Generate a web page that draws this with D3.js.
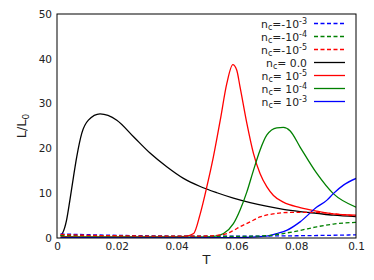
<!DOCTYPE html>
<html>
<head>
<meta charset="utf-8">
<script src="https://cdn.jsdelivr.net/npm/d3@7"></script>
<style>
  body { margin: 0; background: #fff; }
  svg { font-family: "DejaVu Sans", sans-serif; }
</style>
</head>
<body>
<div id="chart"></div>
<script>
const kWidth = 374;
const kHeight = 280;
const kMargin = {left: 57, right: 18, top: 14, bottom: 42};

const xTicks = [0, 0.02, 0.04, 0.06, 0.08, 0.1];
const xTickLabels = ["0", "0.02", "0.04", "0.06", "0.08", "0.1"];
const yTicks = [0, 10, 20, 30, 40, 50];

// T values and L/L0 values
const tZero = [0.0012, 0.0018, 0.0032, 0.0043, 0.0055, 0.0066, 0.0083, 0.0105, 0.0144, 0.02, 0.0256, 0.0312, 0.0367, 0.0423, 0.0479, 0.0535, 0.059, 0.0646, 0.07, 0.0757, 0.0813, 0.0869, 0.0924, 0.1];
const lZero = [0.5, 1.0, 4.0, 8.4, 13.6, 18.1, 23.4, 26.3, 27.7, 26.3, 22.6, 18.9, 15.9, 13.3, 11.5, 10.1, 8.9, 7.9, 7.1, 6.4, 5.9, 5.5, 5.1, 4.8];

const tPos5 = [0.0012, 0.02, 0.04, 0.043, 0.0457, 0.0479, 0.0501, 0.0523, 0.0546, 0.0568, 0.0588, 0.0601, 0.0612, 0.0635, 0.0657, 0.0679, 0.0702, 0.0724, 0.0757, 0.0813, 0.0869, 0.0924, 0.1];
const lPos5 = [0.3, 0.25, 0.25, 0.35, 1.0, 5.4, 11.4, 18.1, 26.3, 34.5, 38.7, 37.5, 33.8, 25.6, 18.9, 14.4, 11.4, 9.5, 8.0, 6.8, 6.0, 5.4, 5.1];

const tPos4 = [0.0012, 0.02, 0.04, 0.05, 0.053, 0.0557, 0.059, 0.0612, 0.0635, 0.0657, 0.0679, 0.0702, 0.0735, 0.0757, 0.078, 0.0813, 0.0869, 0.0924, 0.1];
const lPos4 = [0.2, 0.2, 0.2, 0.25, 0.4, 1.0, 3.2, 6.2, 10.3, 15.1, 19.6, 23.0, 24.6, 24.7, 23.9, 20.3, 14.4, 9.9, 6.9];

const tPos3 = [0.0012, 0.02, 0.04, 0.06, 0.07, 0.0735, 0.0768, 0.0813, 0.0869, 0.0902, 0.0924, 0.0958, 0.1];
const lPos3 = [0.1, 0.05, 0.05, 0.1, 0.4, 1.0, 1.7, 3.6, 6.9, 8.4, 9.9, 11.8, 13.3];

const tNeg5 = [0.0012, 0.01, 0.02, 0.04, 0.05, 0.0535, 0.0568, 0.059, 0.0612, 0.0646, 0.0679, 0.0724, 0.078, 0.0869, 0.0924, 0.1];
const lNeg5 = [0.8, 0.6, 0.5, 0.4, 0.45, 0.6, 1.0, 1.7, 2.5, 3.6, 4.7, 5.4, 5.7, 5.7, 5.4, 4.9];

const tNeg4 = [0.0012, 0.02, 0.04, 0.06, 0.07, 0.0757, 0.0813, 0.0869, 0.0924, 0.1];
const lNeg4 = [0.6, 0.4, 0.35, 0.35, 0.5, 1.0, 1.7, 2.5, 3.1, 3.5];

const tNeg3 = [0.0012, 0.02, 0.05, 0.08, 0.1];
const lNeg3 = [0.9, 0.6, 0.4, 0.5, 0.7];

const seriesNames = ["-10", "-10", "-10", " 0.0", " 10", " 10", " 10"];
const seriesExps = ["-3", "-4", "-5", "", "-5", "-4", "-3"];
const seriesColors = ["#0000ff", "#008000", "#ff0000", "#000000", "#ff0000", "#008000", "#0000ff"];
const seriesDashed = [true, true, true, false, false, false, false];
const seriesT = [tNeg3, tNeg4, tNeg5, tZero, tPos5, tPos4, tPos3];
const seriesL = [lNeg3, lNeg4, lNeg5, lZero, lPos5, lPos4, lPos3];

const svg = d3.select("#chart")
  .append("svg")
  .attr("width", kWidth)
  .attr("height", kHeight);

const xScale = d3.scaleLinear()
  .domain([0, 0.1])
  .range([kMargin.left, kWidth - kMargin.right]);

const yScale = d3.scaleLinear()
  .domain([0, 50])
  .range([kHeight - kMargin.bottom, kMargin.top]);

svg.append("clipPath").attr("id", "plot-clip")
  .append("rect")
  .attr("x", xScale(0))
  .attr("y", yScale(50))
  .attr("width", xScale(0.1) - xScale(0))
  .attr("height", yScale(0) - yScale(50));

const line = d3.line()
  .x(d => xScale(d[0]))
  .y(d => yScale(d[1]))
  .curve(d3.curveMonotoneX);

const drawOrder = [3, 4, 5, 6, 0, 1, 2];
drawOrder.forEach(i => {
  const pts = seriesT[i].map((t, j) => [t, seriesL[i][j]]);
  svg.append("path")
    .datum(pts)
    .attr("clip-path", "url(#plot-clip)")
    .attr("fill", "none")
    .attr("stroke", seriesColors[i])
    .attr("stroke-width", 1.3)
    .attr("stroke-dasharray", seriesDashed[i] ? "4,2.5" : null)
    .attr("d", line);
});

// frame
svg.append("rect")
  .attr("x", xScale(0))
  .attr("y", yScale(50))
  .attr("width", xScale(0.1) - xScale(0))
  .attr("height", yScale(0) - yScale(50))
  .attr("fill", "none")
  .attr("stroke", "#000")
  .attr("stroke-width", 1);

const xAxis = d3.axisBottom(xScale)
  .tickValues(xTicks)
  .tickFormat((d, i) => xTickLabels[i])
  .tickSize(0)
  .tickPadding(5);

const yAxis = d3.axisLeft(yScale)
  .tickValues(yTicks)
  .tickSize(0)
  .tickPadding(5);

const gx = svg.append("g")
  .attr("transform", `translate(0, ${yScale(0)})`)
  .call(xAxis);
const gy = svg.append("g")
  .attr("transform", `translate(${xScale(0)}, 0)`)
  .call(yAxis);
[gx, gy].forEach(g => {
  g.select(".domain").remove();
  g.selectAll("text")
    .attr("font-family", "DejaVu Sans")
    .attr("font-size", 10.5)
    .attr("fill", "#222");
});

svg.append("text")
  .attr("x", (xScale(0) + xScale(0.1)) / 2)
  .attr("y", 264)
  .attr("text-anchor", "middle")
  .attr("font-size", 13)
  .attr("fill", "#222")
  .text("T");

const yLabel = svg.append("text")
  .attr("transform", `translate(26, ${(yScale(0) + yScale(50)) / 2}) rotate(-90)`)
  .attr("text-anchor", "middle")
  .attr("font-size", 13)
  .attr("fill", "#222");
yLabel.append("tspan").text("L/L");
yLabel.append("tspan").attr("font-size", 9).attr("dy", 3).text("0");

// legend
const legend = svg.append("g");
seriesNames.forEach((name, i) => {
  const y = 23.5 + i * 13;
  const txt = legend.append("text")
    .attr("x", 307)
    .attr("y", y + 4)
    .attr("text-anchor", "end")
    .attr("font-size", 10.8)
    .attr("fill", "#222");
  txt.append("tspan").text("n");
  txt.append("tspan").attr("font-size", 8).attr("dy", 2.5).text("c");
  txt.append("tspan").attr("dy", -2.5).text("=" + name);
  if (seriesExps[i]) {
    txt.append("tspan").attr("font-size", 8).attr("dy", -3.5).text(seriesExps[i]);
  }
  legend.append("line")
    .attr("x1", 314)
    .attr("x2", 345)
    .attr("y1", y)
    .attr("y2", y)
    .attr("stroke", seriesColors[i])
    .attr("stroke-width", 1.3)
    .attr("stroke-dasharray", seriesDashed[i] ? "4,2.5" : null);
});
</script>
</body>
</html>
